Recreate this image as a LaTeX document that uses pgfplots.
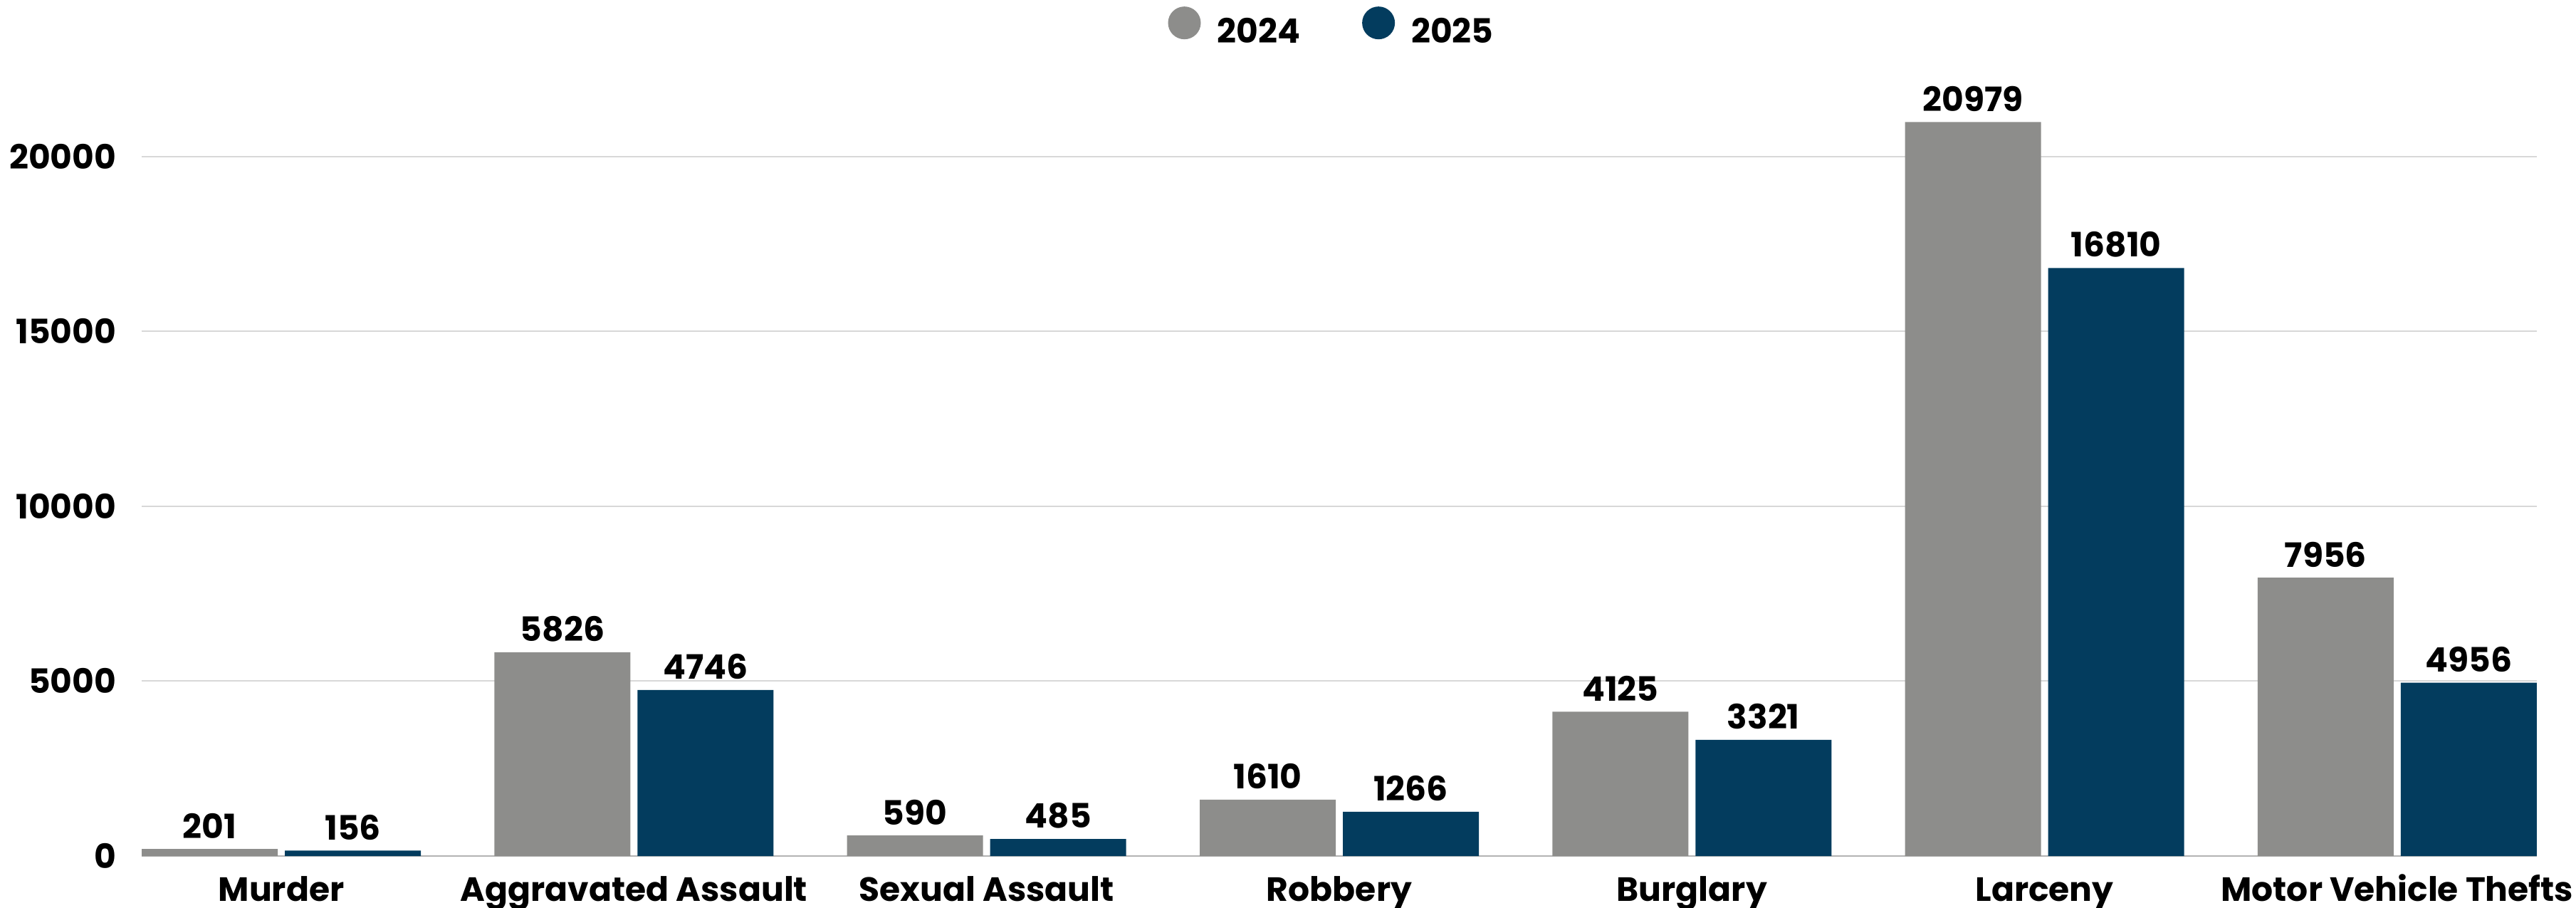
\documentclass[border=0pt]{standalone}
\usepackage{pgfplots}
\pgfplotsset{compat=1.18}
\usepackage{fontspec}
\setmainfont{Poppins}
\definecolor{c24}{HTML}{8D8D8B}
\definecolor{c25}{HTML}{033C5E}
\definecolor{gridc}{HTML}{D8D8D8}
\definecolor{basec}{HTML}{B3B3B3}
\newcommand\cf{\fontsize{11.8}{14}\selectfont\bfseries}

\begin{document}
\begin{tikzpicture}
\path[use as bounding box] (-49.75pt,-18pt) rectangle (854.75pt,300.5pt);
\begin{axis}[
  at={(0,0)}, anchor=south west,
  scale only axis, width=841pt, height=276.3pt,
  ybar=2.5pt, bar width=47.75pt,
  xmin=-0.396, xmax=6.396, ymin=0, ymax=22500,
  xtick={0,...,6},
  xticklabels={Murder, Aggravated Assault, Sexual Assault, Robbery, Burglary, Larceny, Motor Vehicle Thefts},
  ytick={0,5000,10000,15000,20000},
  extra y ticks={0}, extra y tick labels={},
  extra y tick style={grid style={draw=basec, line width=0.35pt}},
  scaled y ticks=false,
  /pgf/number format/1000 sep={},
  /pgf/number format/assume math mode=true,
  axis line style={draw=none},
  major tick length=0pt,
  ymajorgrids, grid style={draw=gridc, line width=0.5pt},
  tick label style={font=\cf, text=black},
  xticklabel style={anchor=base, yshift=-15.75pt},
  yticklabel style={anchor=east, inner sep=0pt, xshift=-8.75pt},
  nodes near coords,
  every node near coord/.append style={font=\cf, text=black, anchor=south, inner sep=0pt, yshift=3.5pt},
  legend columns=2,
  legend style={draw=none, at={(0.5,1)}, anchor=center, yshift=14.7pt, xshift=-3pt,
    font=\cf, inner sep=0pt, nodes={inner sep=0pt},
    /tikz/every odd column/.append style={column sep=5.75pt},
    /tikz/every even column/.append style={column sep=21.75pt}},
  circ/.style={legend image code/.code={\fill[##1] (5.75pt,0.35em) circle (5.75pt);}},
]
\addplot[fill=c24, draw=none, circ] coordinates {
  (0,201) (1,5826) (2,590) (3,1610) (4,4125) (5,20979) (6,7956)
};
\addplot[fill=c25, draw=none, circ] coordinates {
  (0,156) (1,4746) (2,485) (3,1266) (4,3321) (5,16810) (6,4956)
};
\legend{2024,2025}
\end{axis}
\end{tikzpicture}
\end{document}
